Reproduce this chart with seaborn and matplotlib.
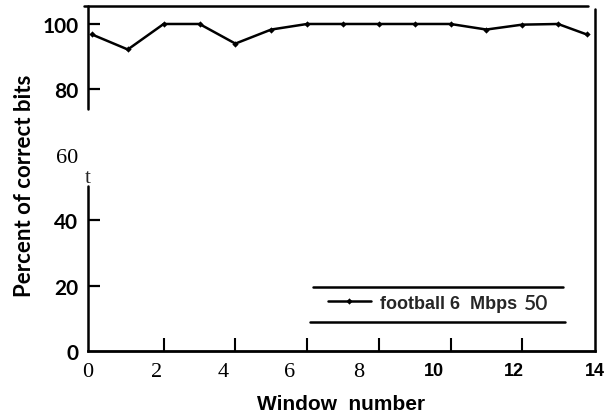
import matplotlib
matplotlib.use("Agg")
import matplotlib.pyplot as plt
from matplotlib.lines import Line2D
import seaborn as sns
import pandas as pd

# ---- data ----
window = [0, 1, 2, 3, 4, 5, 6, 7, 8, 9, 10, 11, 12, 13, 13.8]
percent = [96.8, 92.2, 100, 100, 94.0, 98.3, 100, 100, 100, 100, 100, 98.3, 99.8, 100, 96.8]
series_name = "football 6  Mbps"
legend_suffix = "50"

ytick_marked = [20, 40, 80, 100]
ytick_marked_labels = ["20", "40", "80", "100"]
ytick_plain = [0, 60]
ytick_plain_labels = ["0", "60"]
xtick_label_pos = [-0.11, 1.80, 3.67, 5.52, 7.43, 9.55, 11.76, 14.03]
xtick_labels = ["0", "2", "4", "6", "8", "10", "12", "14"]
xtick_marks = [2, 4, 6, 8, 10, 12]

sns.set_style("white")
plt.rcParams["font.family"] = ["Liberation Sans", "DejaVu Sans"]

df = pd.DataFrame({"Window number": window, "Percent": percent, "series": series_name})

fig = plt.figure(figsize=(6.08, 4.14), dpi=100)
rect = [88 / 608, 62 / 414, 507 / 608, 345 / 414]
ax = fig.add_axes(rect)

sns.lineplot(data=df, x="Window number", y="Percent", hue="series",
             palette=["black"], marker="D", markersize=3.2, linewidth=1.8,
             markeredgewidth=0, ax=ax)

YMAX = 105.5
ax.set_xlim(0, 14)
ax.set_ylim(0, YMAX)

# spines: custom
for s in ["left", "top", "right"]:
    ax.spines[s].set_visible(False)
ax.spines["bottom"].set_linewidth(2.0)
ax.spines["bottom"].set_color("black")

lw = 1.8
frame_lines = [
    ((-0.008, 0.986), (1.0, 1.0)),      # top
    ((0.0, 0.0), (1.0, 0.701)),         # left upper
    ((0.0, 0.0), (0.478, 0.0)),         # left lower
    ((1.0, 1.0), (0.991, 0.0)),         # right
    ((0.444, 0.937), (0.1855, 0.1855)), # legend top
    ((0.438, 0.941), (0.084, 0.084)),   # legend bottom
]
for xs, ys in frame_lines:
    ax.add_line(Line2D(xs, ys, transform=ax.transAxes, color="black",
                       linewidth=lw, clip_on=False))

# y tick labels (marks drawn on an overlay below)
ax.set_yticks(ytick_marked, labels=ytick_marked_labels)
ax.set_yticks(ytick_plain, labels=ytick_plain_labels, minor=True)
ax.tick_params(axis="y", which="both", length=0, left=True, labelleft=True, pad=7)
for lab in ax.get_yticklabels(minor=False) + ax.get_yticklabels(minor=True):
    lab.set_color("black")
    if lab.get_text() == "60":
        lab.set_fontfamily("Liberation Serif")
        lab.set_fontsize(16)
        lab.set_fontweight("normal")
    else:
        lab.set_fontfamily("Lato")
        lab.set_fontsize(15)
        lab.set_fontweight("bold")

# x ticks
ax.set_xticks(xtick_label_pos, labels=xtick_labels)
ax.set_xticks(xtick_marks, minor=True)
ax.tick_params(axis="x", which="major", length=0, pad=8)
ax.tick_params(axis="x", which="minor", direction="in", length=9.5, width=1.5,
               color="black", bottom=True)
for lab in ax.get_xticklabels():
    lab.set_color("black")
    if lab.get_text() in ("10", "12", "14"):
        lab.set_fontfamily("Liberation Sans")
        lab.set_fontsize(13)
        lab.set_fontweight("bold")
    else:
        lab.set_fontfamily("Liberation Serif")
        lab.set_fontsize(16)

ax.set_xlabel("Window  number", fontsize=15, fontweight="bold",
              family="Liberation Sans", labelpad=9, color="black")
ax.set_ylabel("Percent of correct bits", fontsize=16, fontweight="bold",
              family="Lato", labelpad=8, color="black")
ax.yaxis.set_label_coords(-0.105, 0.481)

# stray serif character in the reference
ax.text(0.0, 0.475, "t", transform=ax.transAxes, family="Liberation Serif",
        fontsize=15, ha="center", va="bottom")

# legend
leg = ax.legend(loc="center left", bbox_to_anchor=(0.473, 0.139), frameon=False,
                borderpad=0, borderaxespad=0, handlelength=2.4, handletextpad=0.5,
                prop={"family": "Liberation Sans", "weight": "bold", "size": 13})
ax.text(0.860, 0.139, legend_suffix, transform=ax.transAxes, family="Lato",
        fontsize=15, fontweight="semibold", ha="left", va="center")

# overlay axes carrying the inward y tick marks, drawn on top
ov = fig.add_axes(rect, sharey=None)
ov.set_zorder(ax.get_zorder() + 5)
ov.patch.set_visible(False)
ov.set_xlim(0, 1)
ov.set_ylim(0, YMAX)
ov.axis("off")
ov.hlines(ytick_marked, 0, 0.0236, color="black", linewidth=1.6, clip_on=False)

fig.savefig("out.png", dpi=100)
